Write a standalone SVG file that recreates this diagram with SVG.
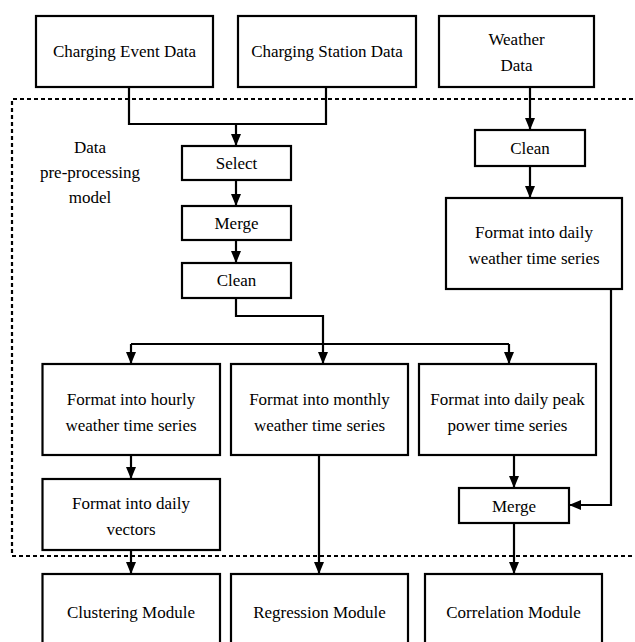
<svg xmlns="http://www.w3.org/2000/svg" width="635" height="642" viewBox="0 0 635 642" font-family="Liberation Serif, Times New Roman, serif">
<defs>
<style>
.box{fill:#fff;stroke:#000;stroke-width:2.2}
.t{font-size:17px;fill:#000;text-anchor:middle;dominant-baseline:central}
.c{fill:none;stroke:#000;stroke-width:2.2}
.dash{fill:none;stroke:#000;stroke-width:2.2;stroke-dasharray:4 3}
</style>
<marker id="ah" markerUnits="userSpaceOnUse" markerWidth="12" markerHeight="12" viewBox="0 0 12 12" refX="12" refY="6" orient="auto">
<path d="M0,1 L12,6 L0,11 Z" fill="#000"/>
</marker>
</defs>
<rect width="635" height="642" fill="#fff"/>

<g id="preprocessing-region">
<path class="dash" d="M640,99 H12 V556 H640"/>
<text class="t" x="90" y="147" font-family="Liberation Serif, serif">Data</text>
<text class="t" x="90" y="172" font-family="Liberation Serif, serif">pre-processing</text>
<text class="t" x="90" y="197" font-family="Liberation Serif, serif">model</text>
</g>

<g id="connectors">
<path class="c" d="M129,87 V124 H326 V87"/>
<path class="c" d="M236,124 V146" marker-end="url(#ah)"/>
<path class="c" d="M236,180 V206" marker-end="url(#ah)"/>
<path class="c" d="M236,240 V263" marker-end="url(#ah)"/>
<path class="c" d="M236,298 V316 H323 V364" marker-end="url(#ah)"/>
<path class="c" d="M131,344 H509"/>
<path class="c" d="M131,344 V364" marker-end="url(#ah)"/>
<path class="c" d="M509,344 V364" marker-end="url(#ah)"/>
<path class="c" d="M530,87 V130" marker-end="url(#ah)"/>
<path class="c" d="M530,166 V198" marker-end="url(#ah)"/>
<path class="c" d="M611,289 V505 H569" marker-end="url(#ah)"/>
<path class="c" d="M131,455 V479" marker-end="url(#ah)"/>
<path class="c" d="M131,550 V574" marker-end="url(#ah)"/>
<path class="c" d="M319,455 V574" marker-end="url(#ah)"/>
<path class="c" d="M514,455 V488" marker-end="url(#ah)"/>
<path class="c" d="M514,523 V574" marker-end="url(#ah)"/>
</g>

<g id="charging-event-data">
<rect class="box" x="36" y="16" width="177" height="71"/>
<text class="t" x="124.5" y="51">Charging Event Data</text>
</g>
<g id="charging-station-data">
<rect class="box" x="238" y="16" width="178" height="71"/>
<text class="t" x="327" y="51">Charging Station Data</text>
</g>
<g id="weather-data">
<rect class="box" x="439" y="16" width="155" height="71"/>
<text class="t" x="516.5" y="39">Weather</text>
<text class="t" x="516.5" y="65">Data</text>
</g>

<g id="select">
<rect class="box" x="182" y="146" width="109" height="34"/>
<text class="t" x="236.5" y="163">Select</text>
</g>
<g id="merge-1">
<rect class="box" x="182" y="206" width="109" height="34"/>
<text class="t" x="236.5" y="223">Merge</text>
</g>
<g id="clean-1">
<rect class="box" x="182" y="263" width="109" height="35"/>
<text class="t" x="236.5" y="280">Clean</text>
</g>

<g id="clean-2">
<rect class="box" x="475" y="130" width="110" height="36"/>
<text class="t" x="530" y="148">Clean</text>
</g>
<g id="format-daily-weather">
<rect class="box" x="446" y="198" width="176" height="91"/>
<text class="t" x="534" y="232">Format into daily</text>
<text class="t" x="534" y="258">weather time series</text>
</g>

<g id="format-hourly">
<rect class="box" x="42.5" y="364" width="177.5" height="91"/>
<text class="t" x="131" y="399">Format into hourly</text>
<text class="t" x="131" y="425">weather time series</text>
</g>
<g id="format-monthly">
<rect class="box" x="231" y="364" width="177" height="91"/>
<text class="t" x="319.5" y="399">Format into monthly</text>
<text class="t" x="319.5" y="425">weather time series</text>
</g>
<g id="format-daily-peak">
<rect class="box" x="419" y="364" width="177" height="91"/>
<text class="t" x="507.5" y="399">Format into daily peak</text>
<text class="t" x="507.5" y="425">power time series</text>
</g>

<g id="format-daily-vectors">
<rect class="box" x="42.5" y="479" width="177.5" height="71"/>
<text class="t" x="131" y="503">Format into daily</text>
<text class="t" x="131" y="529">vectors</text>
</g>
<g id="merge-2">
<rect class="box" x="459" y="488" width="110" height="35"/>
<text class="t" x="514" y="506">Merge</text>
</g>

<g id="clustering-module">
<rect class="box" x="42.5" y="574" width="177.5" height="80"/>
<text class="t" x="131" y="612">Clustering Module</text>
</g>
<g id="regression-module">
<rect class="box" x="231" y="574" width="177" height="80"/>
<text class="t" x="319.5" y="612">Regression Module</text>
</g>
<g id="correlation-module">
<rect class="box" x="425" y="574" width="177" height="80"/>
<text class="t" x="513.5" y="612">Correlation Module</text>
</g>
</svg>
